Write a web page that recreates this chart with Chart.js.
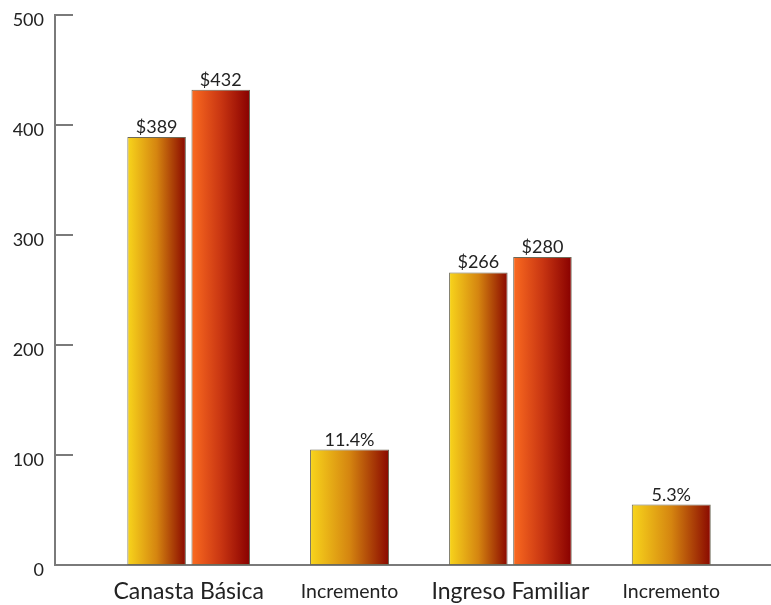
<!DOCTYPE html>
<html>
<head>
<meta charset="utf-8">
<script src="https://cdn.jsdelivr.net/npm/chart.js@4"></script>
<style>
  body { margin: 0; background: #fff; }
  #wrap { width: 771px; height: 605px; }
</style>
</head>
<body>
<div id="wrap"><canvas id="grafico" width="771" height="605"></canvas></div>
<script>
const categorias = ["Canasta Básica", "Incremento", "Ingreso Familiar", "Incremento"];
const anterior = [389, null, 266, null];
const actual = [432, null, 280, null];
const incremento = [null, 105, null, 55];
const incrementoPct = [null, "11.4%", null, "5.3%"];
const yMax = 500;
const yPaso = 100;

const fuente = "Lato, 'Open Sans', sans-serif";
const gris = "#7a7a7a";
const borde = "#6e6a58";

function puntos(valores) {
  return valores.map((v, i) => ({ x: i, y: v }));
}

// degradado horizontal en cada barra + etiquetas encima
const pluginBarras = {
  id: "barras",
  beforeDatasetsDraw(chart) {
    const ctx = chart.ctx;
    chart.data.datasets.forEach((ds, i) => {
      chart.getDatasetMeta(i).data.forEach((bar, j) => {
        if (ds.data[j].y == null) return;
        const g = ctx.createLinearGradient(bar.x - bar.width / 2, 0, bar.x + bar.width / 2, 0);
        g.addColorStop(0, ds.colores[0]);
        g.addColorStop(0.5, ds.colores[1]);
        g.addColorStop(1, ds.colores[2]);
        bar.options = Object.assign({}, bar.options, { backgroundColor: g });
      });
    });
  },
  afterDatasetsDraw(chart) {
    const ctx = chart.ctx;
    ctx.save();
    ctx.font = "18px " + fuente;
    ctx.fillStyle = "#222";
    ctx.textAlign = "center";
    ctx.textBaseline = "alphabetic";
    chart.data.datasets.forEach((ds, i) => {
      chart.getDatasetMeta(i).data.forEach((bar, j) => {
        const txt = ds.etiquetas[j];
        if (txt == null) return;
        ctx.fillText(txt, bar.x, bar.y - 4);
      });
    });
    // marcas del eje y hacia dentro
    const y = chart.scales.y;
    ctx.strokeStyle = gris;
    ctx.lineWidth = 2;
    y.ticks.forEach(t => {
      if (t.value === 0) return;
      const py = Math.round(y.getPixelForValue(t.value));
      ctx.beginPath();
      ctx.moveTo(y.right, py);
      ctx.lineTo(y.right + 18, py);
      ctx.stroke();
    });
    ctx.restore();
  }
};

new Chart(document.getElementById("grafico"), {
  type: "bar",
  data: {
    datasets: [{
      label: "Anterior",
      data: puntos(anterior),
      etiquetas: anterior.map(v => v == null ? null : "$" + v),
      colores: ["#f8d51c", "#d58510", "#8a0800"],
      backgroundColor: "#d58510",
      borderColor: borde,
      barPercentage: 0.913
    }, {
      label: "Actual",
      data: puntos(actual),
      etiquetas: actual.map(v => v == null ? null : "$" + v),
      colores: ["#fb6b20", "#c93612", "#880000"],
      backgroundColor: "#c93612",
      borderColor: borde,
      barPercentage: 0.913
    }, {
      label: "Incremento",
      data: puntos(incremento),
      etiquetas: incrementoPct,
      colores: ["#f8d51c", "#d58510", "#8a0800"],
      backgroundColor: "#d58510",
      borderColor: borde,
      barPercentage: 0.616
    }]
  },
  options: {
    responsive: false,
    animation: false,
    devicePixelRatio: 1,
    layout: { padding: { top: 15, left: 0, right: 0, bottom: 0 } },
    datasets: {
      bar: {
        skipNull: true,
        categoryPercentage: 0.797,
        borderWidth: 1,
        borderSkipped: false
      }
    },
    plugins: {
      legend: { display: false },
      tooltip: { enabled: false },
      colors: { enabled: false }
    },
    scales: {
      x: {
        type: "linear",
        offset: false,
        min: -0.831,
        max: 3.62,
        grid: { display: false, drawTicks: false },
        border: { display: true, color: gris, width: 2 },
        afterFit: s => { s.height = 40; },
        ticks: {
          stepSize: 1,
          includeBounds: false,
          autoSkip: false,
          maxRotation: 0,
          padding: 13,
          color: "#222",
          font: c => {
            const chico = c.tick && categorias[c.tick.value] === "Incremento";
            return { family: fuente, size: chico ? 19.5 : 23, lineHeight: chico ? 1.45 : 1.2 };
          },
          callback: v => Number.isInteger(v) ? categorias[v] : ""
        }
      },
      y: {
        min: 0,
        max: yMax,
        grid: { display: false, drawTicks: false },
        border: { display: true, color: gris, width: 2 },
        afterFit: s => { s.width = 55; s.paddingTop = 0; s.paddingBottom = 0; },
        ticks: {
          stepSize: yPaso,
          padding: 11,
          labelOffset: 5,
          color: "#222",
          font: { family: fuente, size: 18 }
        }
      }
    }
  },
  plugins: [pluginBarras]
});
</script>
</body>
</html>
